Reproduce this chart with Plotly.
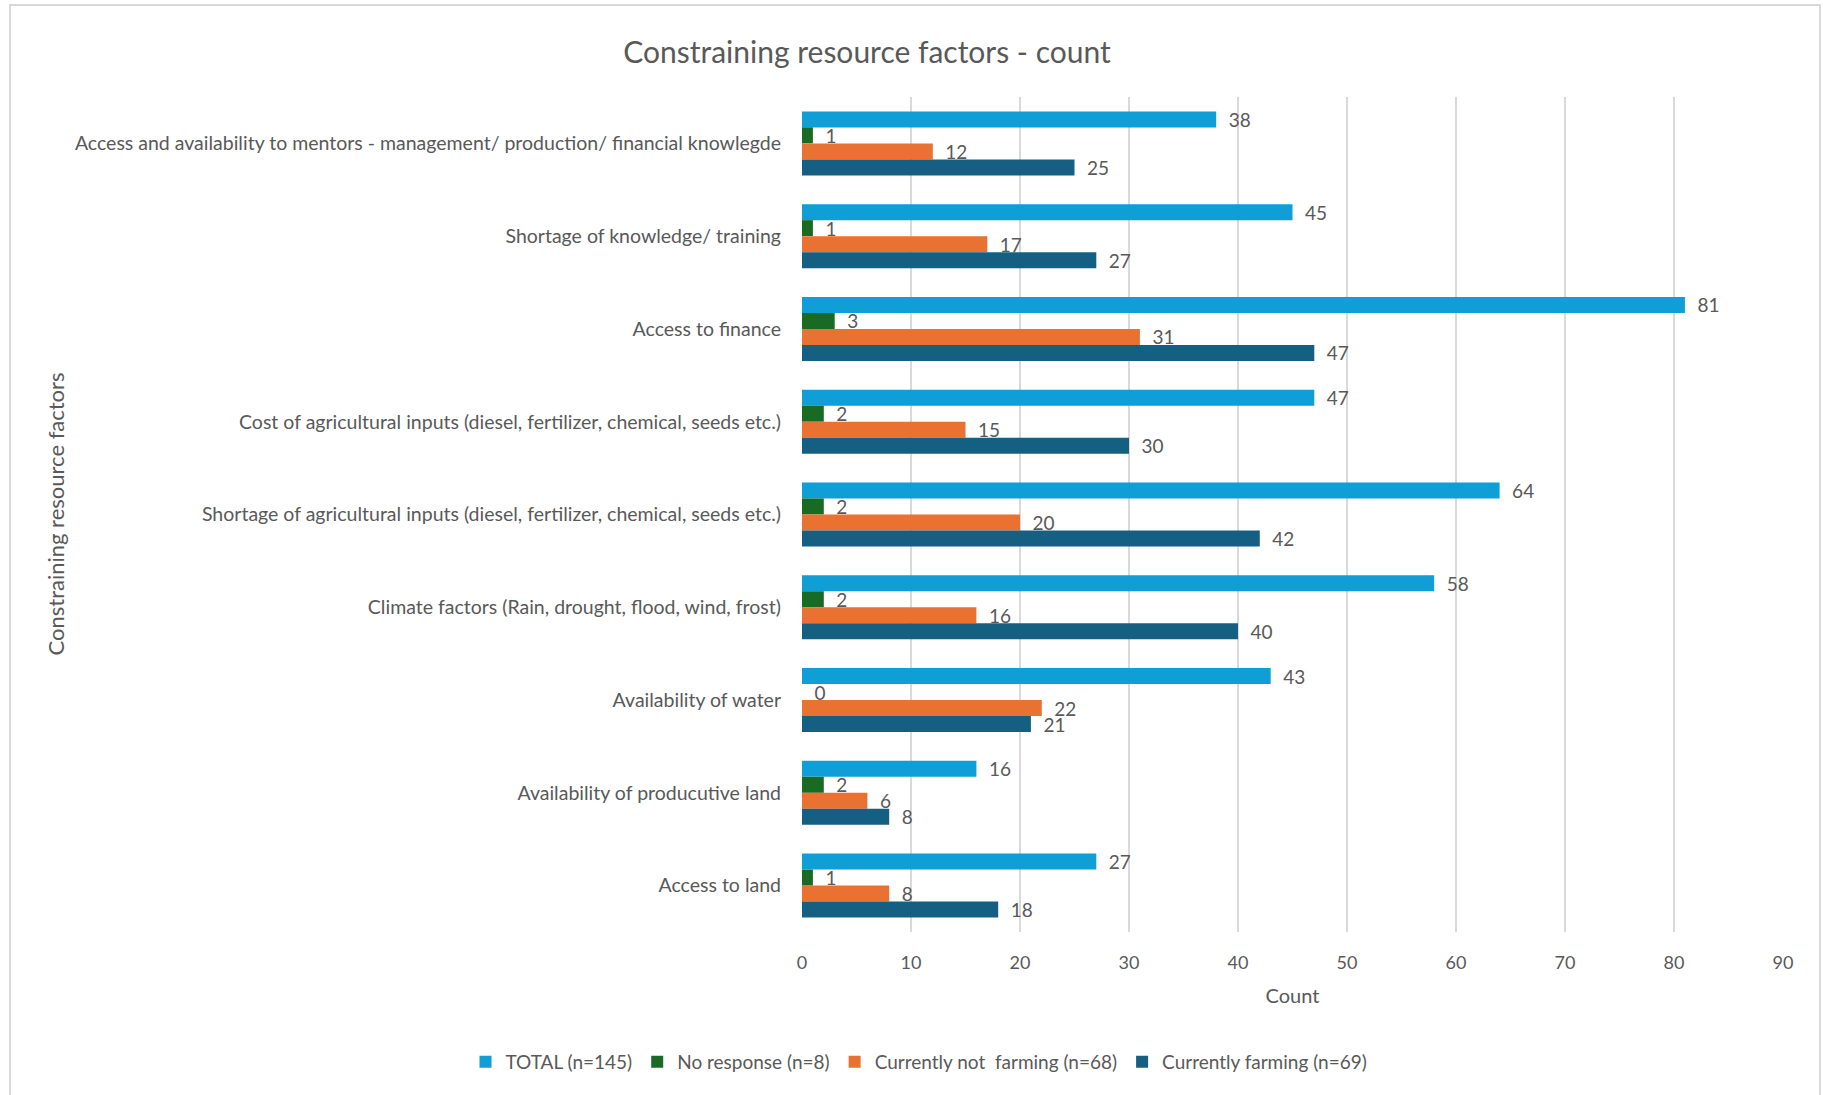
import plotly.graph_objects as go

# Categories listed top to bottom
categories = [
    "Access and availability to mentors - management/ production/ financial knowlegde",
    "Shortage of knowledge/ training",
    "Access to finance",
    "Cost of agricultural inputs (diesel, fertilizer, chemical, seeds etc.)",
    "Shortage of agricultural inputs (diesel, fertilizer, chemical, seeds etc.)",
    "Climate factors (Rain, drought, flood, wind, frost)",
    "Availability of water",
    "Availability of producutive land",
    "Access to land",
]

total = [38, 45, 81, 47, 64, 58, 43, 16, 27]
no_response = [1, 1, 3, 2, 2, 2, 0, 2, 1]
not_farming = [12, 17, 31, 15, 20, 16, 22, 6, 8]
farming = [25, 27, 47, 30, 42, 40, 21, 8, 18]

series_names = ["TOTAL (n=145)", "No response (n=8)",
                "Currently not  farming (n=68)", "Currently farming (n=69)"]
series_values = [total, no_response, not_farming, farming]
series_colors = ["#0F9ED5", "#196B24", "#E97132", "#156082"]

FONT = "Lato"
GREY = "#595959"

# Layout geometry (pixels)
W, H = 1823, 1095
ML, MR, MT, MB = 802, 40, 97, 163
PW = W - ML - MR
PH = H - MT - MB


def px_x(px):
    return (px - ML) / PW


def px_y(py):
    return (H - MB - py) / PH


fig = go.Figure()
for name, vals, color in zip(series_names, series_values, series_colors):
    fig.add_trace(go.Bar(
        y=categories, x=vals, name=name, orientation="h",
        marker=dict(color=color, line=dict(width=0)),
        text=vals, texttemplate="\u2002%{x}", textposition="outside",
        textfont=dict(family=FONT, size=19, color=GREY),
        constraintext="none", cliponaxis=False,
    ))

fig.update_layout(
    width=W, height=H,
    margin=dict(l=ML, r=MR, t=MT, b=MB, autoexpand=False),
    paper_bgcolor="white", plot_bgcolor="white",
    barmode="group", bargap=0.31, bargroupgap=0,
    font=dict(family=FONT, color=GREY),
    title=dict(text="Constraining resource factors - count",
               x=867 / W, xanchor="center", xref="container",
               y=1 - 52 / H, yanchor="middle", yref="container",
               font=dict(family=FONT, size=30, color=GREY)),
    xaxis=dict(range=[0, 90], dtick=10, showgrid=True, gridcolor="#D9D9D9",
               gridwidth=1.5, zeroline=False, showline=False,
               tickfont=dict(family=FONT, size=18, color=GREY),
               ticklabelstandoff=18,
               title=dict(text="Count", standoff=16,
                          font=dict(family=FONT, size=20, color=GREY))),
    yaxis=dict(autorange="reversed", showgrid=False, zeroline=False,
               showline=False, ticks="",
               tickfont=dict(family=FONT, size=19.5, color=GREY),
               ticklabelstandoff=20),
    legend=dict(orientation="h", x=px_x(919), xanchor="center",
                y=px_y(1062), yanchor="middle",
                font=dict(family=FONT, size=19, color=GREY),
                itemwidth=30, traceorder="normal"),
    annotations=[dict(text="Constraining resource factors", textangle=-90,
                      x=px_x(55), y=0.5, xref="paper", yref="paper",
                      xanchor="center", yanchor="middle", showarrow=False,
                      font=dict(family=FONT, size=22, color=GREY))],
    shapes=[dict(type="rect", xref="paper", yref="paper",
                 x0=px_x(10), x1=px_x(1820), y0=px_y(1120), y1=px_y(5),
                 line=dict(color="#D9D9D9", width=2), layer="below")],
)

fig.write_html("out.html")
